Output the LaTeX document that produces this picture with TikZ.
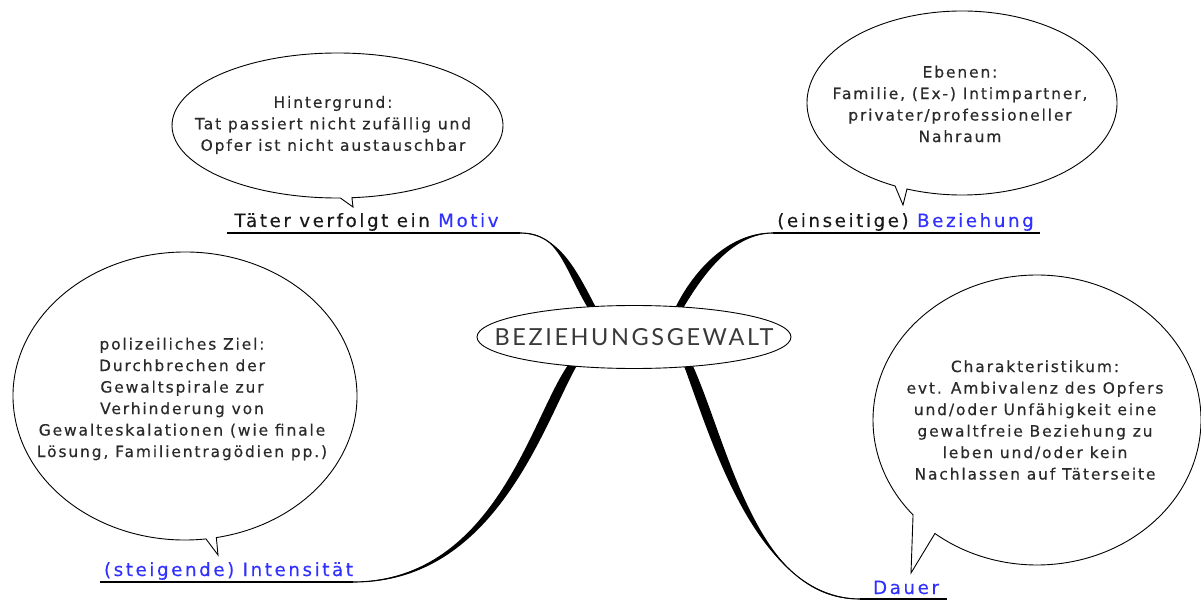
\documentclass[tikz,border=0pt]{standalone}
\usepackage{fontspec}
\usetikzlibrary{shapes.geometric,calc,backgrounds}
\newfontfamily\bubblefont{DejaVu Sans}[LetterSpace=12,FakeBold=0.4]
\newfontfamily\labelfont{DejaVu Sans}[LetterSpace=14,FakeBold=0.3]
\newfontfamily\titlefont{Lato}[LetterSpace=11]
\definecolor{txtgray}{HTML}{2A2A2A}
\definecolor{titlegray}{HTML}{3A3A3A}
\definecolor{linkblue}{HTML}{3030FF}
% #1 start, #2 ctrl1, #3 ctrl2, #4 end, #5/#6/#7 half-width offset vectors at ctrl1/ctrl2/end
\newcommand\taperlink[7]{%
  \fill (#1) .. controls ($(#2)-(#5)$) and ($(#3)-(#6)$) .. ($(#4)-(#7)$)
    -- ($(#4)+(#7)$) .. controls ($(#3)+(#6)$) and ($(#2)+(#5)$) .. (#1) -- cycle;
  \draw[line width=1.1] (#1) .. controls (#2) and (#3) .. (#4);}
\tikzset{
  bubble/.style={draw=black, line width=0.9, fill=white, line join=miter},
  bubbletext/.style={font=\bubblefont\fontsize{15.5}{21.5}\selectfont, text=txtgray, align=center, inner sep=0},
  labeltext/.style={font=\labelfont\fontsize{18.3}{22}\selectfont, text=black!90, inner sep=0, anchor=base},
  uline/.style={line width=1.1, black},
}
\begin{document}
\begin{tikzpicture}[x=1pt,y=-1pt]
\useasboundingbox (0,0) rectangle (1201,601);

% central node
\node[ellipse, draw=black, line width=0.9, fill=white, minimum width=314, minimum height=63, inner sep=0,
      text=titlegray, font=\titlefont\fontsize{23.5}{23.5}\selectfont] (core) at (634,337) {\makebox[0pt]{BEZIEHUNGSGEWALT}};

% branch labels
\node[labeltext] (motiv) at (366.5,227) {Täter verfolgt ein \textcolor{linkblue}{Motiv}};
\node[labeltext] (bez) at (905.5,227) {(einseitige) \textcolor{linkblue}{Beziehung}};
\node[labeltext, text=linkblue] (int) at (228.5,576) {(steigende) Intensität};
\node[labeltext, text=linkblue] (dauer) at (906,594) {Dauer};

% underline coordinates
\coordinate (mA) at (227,233);  \coordinate (mB) at (520,233);
\coordinate (bA) at (773,233);  \coordinate (bB) at (1040,233);
\coordinate (iA) at (100,582);  \coordinate (iB) at (353,582);
\coordinate (dA) at (860,599);  \coordinate (dB) at (947,599);

% curve ends inside the central node
\coordinate (cUL) at ($(core.center)+(-38,-22)$);
\coordinate (cUR) at ($(core.center)+(43,-25)$);
\coordinate (cLL) at ($(core.center)+(-58,23)$);
\coordinate (cLR) at ($(core.center)+(52,23)$);

\begin{pgfonlayer}{background}
\draw[uline] (mA) -- (mB);
\draw[uline] (bA) -- (bB);
\draw[uline] (iA) -- (iB);
\draw[uline] (dA) -- (dB);
\coordinate (ul1) at (560,233); \coordinate (ul2) at (570,270);
\taperlink{mB}{ul1}{ul2}{cUL}{0,1.8}{5.5,-2}{3.8,0}
\coordinate (ur1) at (733,233); \coordinate (ur2) at (700,268);
\taperlink{bA}{ur1}{ur2}{cUR}{0,1.8}{5.5,2}{3.8,0}
\coordinate (ll1) at (500,582); \coordinate (ll2) at (540,410);
\taperlink{iB}{ll1}{ll2}{cLL}{0,2.6}{7.5,1.5}{4.2,0}
\coordinate (lr1) at (720,440); \coordinate (lr2) at (755,599);
\taperlink{dA}{lr2}{lr1}{cLR}{0,2.6}{7.5,-1.5}{4.2,0}
\end{pgfonlayer}

% speech bubbles
\path[bubble] (337.5,125.5) ++(89:165.5 and 72.5)
  arc[start angle=89, end angle=445, x radius=165.5, y radius=72.5] -- (353,207) -- cycle;
\path[bubble] (962,103) ++(115.6:155 and 92)
  arc[start angle=115.6, end angle=470.8, x radius=155, y radius=92] -- (903,205) -- cycle;
\path[bubble] (185,396) ++(83:172 and 144)
  arc[start angle=83, end angle=439.5, x radius=172, y radius=144] -- (218,555) -- cycle;
\path[bubble] (1037,420) ++(139.1:164 and 145)
  arc[start angle=139.1, end angle=488.5, x radius=164, y radius=145] -- (911,573) -- cycle;

% bubble texts
\node[bubbletext] (hint) at (333,125) {Hintergrund:\\Tat passiert nicht zufällig und\\Opfer ist nicht austauschbar};
\node[bubbletext] (eben) at (960,104) {Ebenen:\\Familie, (Ex-) Intimpartner,\\privater/professioneller\\Nahraum};
\node[bubbletext] (ziel) at (182,399) {polizeiliches Ziel:\\Durchbrechen der\\Gewaltspirale zur\\Verhinderung von\\Gewalteskalationen (wie finale\\Lösung, Familientragödien pp.)};
\node[bubbletext] (char) at (1035,420) {Charakteristikum:\\evt. Ambivalenz des Opfers\\und/oder Unfähigkeit eine\\gewaltfreie Beziehung zu\\leben und/oder kein\\Nachlassen auf Täterseite};
\end{tikzpicture}
\end{document}
